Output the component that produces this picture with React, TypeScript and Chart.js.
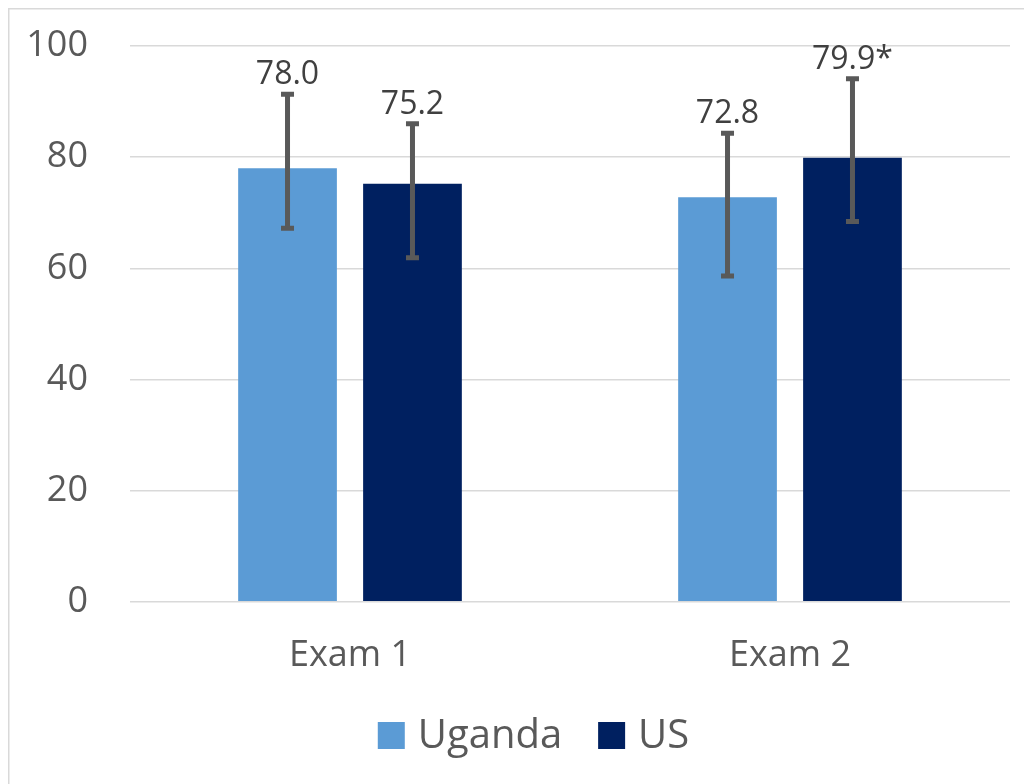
import React, { useEffect, useRef } from "react";
import { Chart, registerables } from "chart.js";

Chart.register(...registerables);

const categories = ["Exam 1", "Exam 2"];
const seriesNames = ["Uganda", "US"];
const ugandaMeans = [78.0, 72.8];
const usMeans = [75.2, 79.9];
const ugandaUpper = [91.3, 84.3];
const ugandaLower = [67.2, 58.6];
const usUpper = [86.0, 94.1];
const usLower = [61.9, 68.4];
const ugandaLabels = ["78.0", "72.8"];
const usLabels = ["75.2", "79.9*"];
const yTicks = [0, 20, 40, 60, 80, 100];

const FONT = "'Open Sans', 'Noto Sans', sans-serif";
const COLORS = ["#5B9BD5", "#002060"];

export default function App() {
  const ref = useRef<HTMLCanvasElement | null>(null);

  useEffect(() => {
    if (!ref.current) return;
    const uppers = [ugandaUpper, usUpper];
    const lowers = [ugandaLower, usLower];
    const labels = [ugandaLabels, usLabels];

    const overlay = {
      id: "overlay",
      beforeDraw(chart: any) {
        const ctx = chart.ctx;
        ctx.save();
        ctx.strokeStyle = "#d9d9d9";
        ctx.lineWidth = 1.5;
        ctx.beginPath();
        ctx.moveTo(0.75, chart.height);
        ctx.lineTo(0.75, 0.75);
        ctx.lineTo(chart.width, 0.75);
        ctx.stroke();
        ctx.restore();
      },
      afterDatasetsDraw(chart: any) {
        const ctx = chart.ctx;
        const y = chart.scales.y;
        ctx.save();
        chart.data.datasets.forEach((ds: any, di: number) => {
          const meta = chart.getDatasetMeta(di);
          meta.data.forEach((bar: any, i: number) => {
            const x = bar.x;
            const yt = y.getPixelForValue(uppers[di][i]);
            const yb = y.getPixelForValue(lowers[di][i]);
            ctx.strokeStyle = "#595959";
            ctx.lineWidth = 5;
            ctx.lineCap = "butt";
            ctx.beginPath();
            ctx.moveTo(x, yt);
            ctx.lineTo(x, yb);
            ctx.moveTo(x - 6.5, yt);
            ctx.lineTo(x + 6.5, yt);
            ctx.moveTo(x - 6.5, yb);
            ctx.lineTo(x + 6.5, yb);
            ctx.stroke();
            ctx.fillStyle = "#404040";
            ctx.font = `32px ${FONT}`;
            ctx.textAlign = "center";
            ctx.textBaseline = "alphabetic";
            ctx.fillText(labels[di][i], x, yt - 10);
          });
        });
        // legend
        ctx.font = `40px ${FONT}`;
        const box = 27;
        const gapText = 13;
        const gapItem = 36;
        const widths = seriesNames.map((n) => box + gapText + ctx.measureText(n).width);
        const total = widths.reduce((a, b) => a + b, 0) + gapItem * (seriesNames.length - 1);
        let lx = 525.5 - total / 2;
        const cy = 727.5;
        seriesNames.forEach((n, k) => {
          ctx.fillStyle = COLORS[k];
          ctx.fillRect(lx, cy - box / 2, box, box);
          ctx.fillStyle = "#595959";
          ctx.textAlign = "left";
          ctx.textBaseline = "middle";
          ctx.fillText(n, lx + box + gapText, cy + 1);
          lx += widths[k] + gapItem;
        });
        ctx.restore();
      },
    };

    const chart = new Chart(ref.current, {
      type: "bar",
      data: {
        labels: categories,
        datasets: [
          {
            label: seriesNames[0],
            data: ugandaMeans,
            backgroundColor: COLORS[0],
            categoryPercentage: 0.568,
            barPercentage: 0.79,
          },
          {
            label: seriesNames[1],
            data: usMeans,
            backgroundColor: COLORS[1],
            categoryPercentage: 0.568,
            barPercentage: 0.79,
          },
        ],
      },
      options: {
        animation: false,
        responsive: false,
        devicePixelRatio: 1,
        layout: { padding: { left: 0, right: 22, top: 38, bottom: 0 } },
        plugins: {
          legend: { display: false },
          tooltip: { enabled: false },
        },
        scales: {
          x: {
            grid: { display: false, drawTicks: false },
            border: { display: false },
            ticks: {
              color: "#595959",
              font: { family: FONT, size: 36 },
              padding: 32,
            },
            afterFit: (s: any) => {
              s.height = 182.3;
            },
          },
          y: {
            min: 0,
            max: 100,
            afterBuildTicks: (s: any) => {
              s.ticks = yTicks.map((v) => ({ value: v }));
            },
            grid: { color: "#d9d9d9", lineWidth: 1.5, drawTicks: false },
            border: { display: false },
            ticks: {
              color: "#595959",
              font: { family: FONT, size: 36 },
              padding: 42,
            },
            afterFit: (s: any) => {
              s.width = 122;
              s.paddingTop = 0;
              s.paddingBottom = 0;
            },
          },
        },
      },
      plugins: [overlay],
    });
    return () => chart.destroy();
  }, []);

  return (
    <div style={{ width: 1024, height: 776 }}>
      <canvas ref={ref} width={1024} height={776} style={{ display: "block" }} />
    </div>
  );
}
